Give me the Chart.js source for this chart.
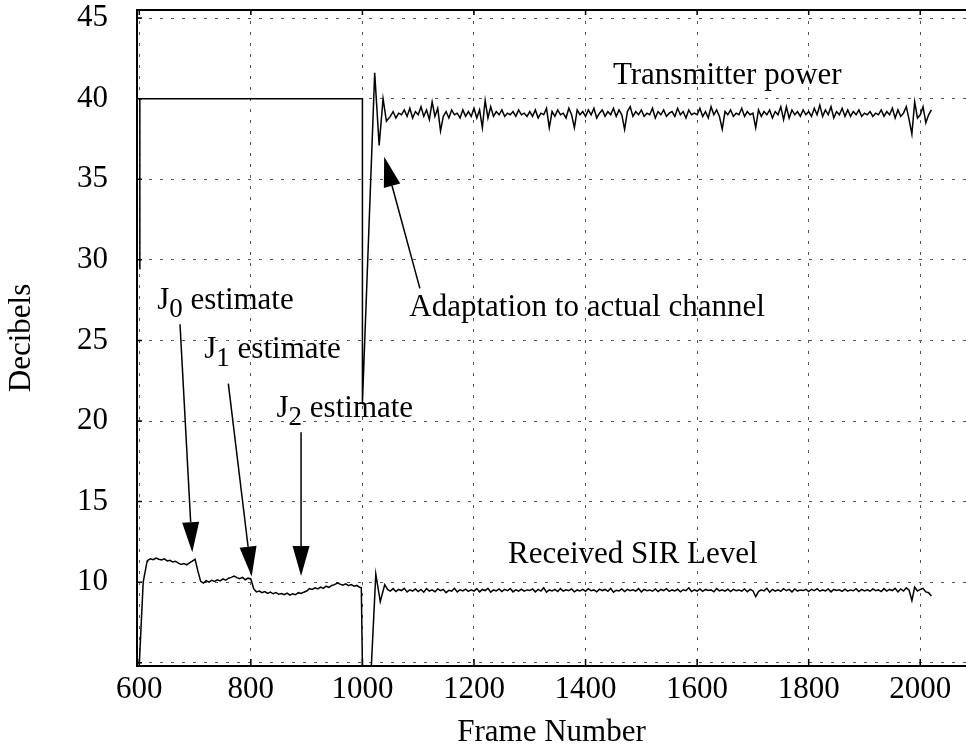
<!DOCTYPE html>
<html>
<head>
<meta charset="utf-8">
<script src="https://cdn.jsdelivr.net/npm/chart.js@4.4.0/dist/chart.umd.min.js"></script>
<style>
  body { margin: 0; background: #fff; }
  #wrap { width: 966px; height: 751px; overflow: hidden; background: #fff; }
</style>
</head>
<body>
<div id="wrap"><canvas id="mycanvas" width="966" height="751"></canvas></div>
<script>
var serif = '"Liberation Serif", "DejaVu Serif", serif';

// axis ticks
var frameTicks = [600, 800, 1000, 1200, 1400, 1600, 1800, 2000];
var dbTicks = [5, 10, 15, 20, 25, 30, 35, 40, 45];

// transmitter power: switch-on, fixed 40 dB, then adaptation overshoot
var powerFrames = [601, 601, 1000, 1000, 1022, 1030, 1037, 1043];
var powerDb = [29.4, 40, 40, 21.1, 41.6, 37.1, 40.0, 38.6];
// steady part, one reading every 5 frames from frame 1050
var powerTailStart = 1050;
var powerTail = [
  38.9, 39.2, 38.8, 39.1, 39.0, 39.3, 38.9, 39.4, 38.8, 39.2,
  39.0, 39.5, 38.9, 39.3, 38.7, 39.8, 38.9, 39.4, 38.0, 38.9, 39.2, 38.8, 39.3, 39.0, 39.1, 38.8, 39.3, 38.9, 39.2, 38.9,
  39.4, 38.8, 39.3, 38.2, 39.9, 38.8, 39.5, 38.9, 39.2, 39.0, 39.3, 38.9, 39.1, 39.0, 39.2, 38.9, 39.3, 39.0, 39.1, 38.9,
  39.2, 38.9, 39.3, 38.8, 39.1, 39.0, 39.4, 38.2, 39.2, 38.9, 39.3, 39.0, 39.1, 38.8, 39.4, 39.0, 38.2, 39.3, 39.0, 39.2,
  38.9, 39.3, 39.0, 39.4, 38.8, 39.1, 39.3, 38.9, 39.2, 39.0, 39.4, 38.9, 39.3, 39.0, 38.1, 39.2, 39.5, 38.9, 39.2, 39.0,
  39.3, 38.9, 39.1, 39.0, 39.4, 38.8, 39.2, 39.0, 39.3, 38.9, 39.1, 39.2, 38.9, 39.4, 39.0, 39.2, 38.8, 39.3, 39.0, 39.1,
  39.0, 39.4, 38.9, 39.2, 38.8, 39.5, 39.0, 39.3, 38.9, 38.1, 39.2, 39.0, 39.3, 38.9, 39.1, 39.0, 39.4, 38.9, 39.2, 39.0,
  39.1, 38.2, 39.3, 38.9, 39.2, 39.0, 39.3, 38.8, 39.2, 39.0, 39.5, 38.7, 39.5, 38.8, 39.3, 39.0, 39.2, 38.9, 39.3, 39.0,
  39.2, 38.9, 39.4, 39.0, 39.6, 38.9, 39.3, 39.0, 39.5, 38.8, 39.2, 39.0, 39.4, 38.9, 39.3, 38.9, 39.2, 39.0, 39.3, 38.9,
  39.1, 39.0, 39.2, 38.9, 39.1, 39.0, 39.3, 38.9, 39.2, 39.0, 39.4, 38.8, 39.3, 38.9, 39.1, 39.5, 38.7, 37.8, 39.8, 38.8,
  39.0, 39.5, 38.5, 39.0, 39.3
];

// received SIR: start-up rise
var sirStartFrames = [600, 607, 614];
var sirStartDb = [4.9, 10.0, 11.3];
// J0 / J1 / J2 estimation phase, every 5 frames from 615 to 995
var sirEarlyStart = 615;
var sirEarly = [
  11.35, 11.45, 11.40, 11.50, 11.42, 11.38, 11.45, 11.32, 11.36, 11.25, 11.30, 11.18, 11.10, 11.15, 11.08, 11.20, 11.30,
  11.42, 10.70, 10.05, 9.95, 10.10, 10.00, 10.12, 10.05, 10.15, 10.08, 10.20, 10.12, 10.25, 10.30, 10.38, 10.28, 10.22, 10.30, 10.15, 10.25,
  10.20, 9.60, 9.40, 9.45, 9.35, 9.42, 9.30, 9.38, 9.28, 9.35, 9.25, 9.30, 9.22, 9.32, 9.20, 9.28, 9.22, 9.35, 9.30, 9.38,
  9.45, 9.60, 9.55, 9.65, 9.58, 9.70, 9.62, 9.75, 9.68, 9.80, 9.85, 9.95, 9.88, 9.82, 9.90, 9.78, 9.85, 9.75, 9.80, 9.68
];
// drop-out at 1000 and recovery
var sirMidFrames = [998, 1000, 1016, 1024, 1032, 1040];
var sirMidDb = [9.65, 4.8, 4.8, 10.5, 8.8, 9.85];
// steady part, every 5 frames from 1045
var sirTailStart = 1045;
var sirTail = [
  9.55, 9.45, 9.60, 9.42, 9.55, 9.48, 9.62, 9.40, 9.52, 9.45, 9.58,
  9.42, 9.55, 9.38, 9.60, 9.45, 9.52, 9.40, 9.58, 9.47, 9.55, 9.35, 9.50, 9.45, 9.62, 9.40, 9.53, 9.46, 9.57, 9.43, 9.52,
  9.45, 9.60, 9.40, 9.55, 9.48, 9.62, 9.38, 9.52, 9.46, 9.58, 9.42, 9.55, 9.47, 9.60, 9.40, 9.53, 9.45, 9.57, 9.44, 9.52,
  9.48, 9.58, 9.40, 9.55, 9.45, 9.65, 9.38, 9.52, 9.46, 9.55, 9.42, 9.60, 9.45, 9.53, 9.47, 9.58, 9.40, 9.52, 9.46, 9.55,
  9.43, 9.60, 9.47, 9.52, 9.40, 9.57, 9.48, 9.55, 9.44, 9.62, 9.38, 9.50, 9.46, 9.58, 9.42, 9.55, 9.47, 9.53, 9.45, 9.60,
  9.40, 9.55, 9.47, 9.52, 9.44, 9.58, 9.42, 9.55, 9.48, 9.60, 9.43, 9.52, 9.46, 9.56, 9.40, 9.53, 9.47, 9.65, 9.42, 9.52,
  9.45, 9.58, 9.43, 9.55, 9.48, 9.52, 9.40, 9.60, 9.46, 9.53, 9.44, 9.57, 9.42, 9.55, 9.47, 9.52, 9.45, 9.58, 9.41, 9.55,
  9.47, 9.10, 9.42, 9.53, 9.46, 9.62, 9.38, 9.55, 9.45, 9.52, 9.43, 9.60, 9.47, 9.55, 9.40, 9.58, 9.45, 9.52, 9.48, 9.56,
  9.42, 9.55, 9.47, 9.60, 9.44, 9.52, 9.46, 9.58, 9.40, 9.55, 9.48, 9.53, 9.43, 9.57, 9.45, 9.52, 9.47, 9.60, 9.42, 9.55,
  9.46, 9.53, 9.44, 9.58, 9.47, 9.52, 9.42, 9.60, 9.45, 9.55, 9.48, 9.62, 9.40, 9.58, 9.45, 9.65, 9.50, 8.86, 9.70, 9.45,
  9.55, 9.62, 9.40, 9.35, 9.15
];

// text labels and arrows, in frame / dB units
var notes = [
  { text: 'Transmitter power', x: 1449, y: 40.89 },
  { text: 'Adaptation to actual channel', x: 1084, y: 26.5 },
  { text: 'Received SIR Level', x: 1261, y: 11.22 },
  { text: 'J', sub: '0', rest: ' estimate', x: 632, y: 26.92 },
  { text: 'J', sub: '1', rest: ' estimate', x: 716.5, y: 23.92 },
  { text: 'J', sub: '2', rest: ' estimate', x: 846, y: 20.23 }
];
var arrows = [
  { from: [673, 26.0], to: [695, 11.86] },
  { from: [759.6, 22.32], to: [801.5, 10.35] },
  { from: [890, 19.3], to: [890, 10.39] },
  { from: [1103, 28.23], to: [1039, 36.39] }
];

function toPoints(frames, vals) {
  var pts = [];
  for (var i = 0; i < frames.length; i++) pts.push({ x: frames[i], y: vals[i] });
  return pts;
}
function tailPoints(start, vals) {
  var pts = [];
  for (var i = 0; i < vals.length; i++) pts.push({ x: start + 5 * i, y: vals[i] });
  return pts;
}

var powerData = toPoints(powerFrames, powerDb).concat(tailPoints(powerTailStart, powerTail));
var sirData = toPoints(sirStartFrames, sirStartDb)
  .concat(tailPoints(sirEarlyStart, sirEarly))
  .concat(toPoints(sirMidFrames, sirMidDb))
  .concat(tailPoints(sirTailStart, sirTail));

var framePlugin = {
  id: 'frameAndNotes',
  afterDatasetsDraw: function(chart) {
    var ctx = chart.ctx, a = chart.chartArea;
    var xs = chart.scales.x, ys = chart.scales.y;
    ctx.save();
    // top frame line
    ctx.strokeStyle = '#000';
    ctx.lineWidth = 2;
    ctx.beginPath();
    ctx.moveTo(a.left, a.top);
    ctx.lineTo(a.right, a.top);
    ctx.stroke();
    // inward tick marks
    ctx.lineWidth = 1.5;
    ctx.beginPath();
    frameTicks.forEach(function(v) {
      var px = xs.getPixelForValue(v);
      ctx.moveTo(px, a.bottom); ctx.lineTo(px, a.bottom - 7);
      ctx.moveTo(px, a.top); ctx.lineTo(px, a.top + 5);
    });
    dbTicks.forEach(function(v) {
      var py = ys.getPixelForValue(v);
      ctx.moveTo(a.left, py); ctx.lineTo(a.left + 5, py);
    });
    ctx.stroke();

    // text notes
    ctx.fillStyle = '#000';
    ctx.textBaseline = 'alphabetic';
    ctx.textAlign = 'left';
    notes.forEach(function(n) {
      var px = xs.getPixelForValue(n.x), py = ys.getPixelForValue(n.y);
      ctx.font = '31px ' + serif;
      ctx.fillText(n.text, px, py);
      if (n.sub) {
        px += ctx.measureText(n.text).width;
        ctx.font = '27px ' + serif;
        ctx.fillText(n.sub, px, py + 8);
        px += ctx.measureText(n.sub).width;
        ctx.font = '31px ' + serif;
        ctx.fillText(n.rest, px, py);
      }
    });

    // arrows
    arrows.forEach(function(ar) {
      var x1 = xs.getPixelForValue(ar.from[0]), y1 = ys.getPixelForValue(ar.from[1]);
      var x2 = xs.getPixelForValue(ar.to[0]), y2 = ys.getPixelForValue(ar.to[1]);
      var dx = x2 - x1, dy = y2 - y1, len = Math.sqrt(dx * dx + dy * dy);
      var ux = dx / len, uy = dy / len;
      var hl = 30, hw = 8.5;
      var bx = x2 - ux * hl, by = y2 - uy * hl;
      ctx.lineWidth = 1.5;
      ctx.beginPath();
      ctx.moveTo(x1, y1);
      ctx.lineTo(bx, by);
      ctx.stroke();
      ctx.beginPath();
      ctx.moveTo(x2, y2);
      ctx.lineTo(bx - uy * hw, by + ux * hw);
      ctx.lineTo(bx + uy * hw, by - ux * hw);
      ctx.closePath();
      ctx.fill();
    });
    ctx.restore();
  }
};

var ctx = document.getElementById('mycanvas');
var LineGraph = new Chart(ctx, {
  type: 'line',
  data: {
    datasets: [
      { label: 'Transmitter power', data: powerData, borderColor: '#000', borderWidth: 1.5,
        pointRadius: 0, fill: false, tension: 0 },
      { label: 'Received SIR Level', data: sirData, borderColor: '#000', borderWidth: 1.5,
        pointRadius: 0, fill: false, tension: 0 }
    ]
  },
  options: {
    responsive: false,
    animation: false,
    events: [],
    layout: { padding: { top: 10, right: 0, left: 0, bottom: 0 } },
    plugins: { legend: { display: false }, tooltip: { enabled: false } },
    scales: {
      x: {
        type: 'linear',
        min: 595.9,
        max: 2082,
        afterBuildTicks: function(s) { s.ticks = frameTicks.map(function(v) { return { value: v }; }); },
        afterFit: function(s) { s.height = 85; s.paddingLeft = 0; s.paddingRight = 0; },
        grid: { color: '#555', lineWidth: 1, drawTicks: false },
        border: { display: true, color: '#000', width: 2, dash: [3, 8] },
        ticks: { color: '#000', font: { family: serif, size: 31 }, padding: 5, maxRotation: 0,
                 callback: function(v) { return v; } },
        title: { display: true, text: 'Frame Number', color: '#000',
                 font: { family: serif, size: 31 }, padding: { top: 0, bottom: 0 } }
      },
      y: {
        min: 4.8,
        max: 45.5,
        afterBuildTicks: function(s) { s.ticks = dbTicks.map(function(v) { return { value: v }; }); },
        afterFit: function(s) { s.width = 137; s.paddingTop = 0; s.paddingBottom = 0; },
        grid: { color: '#555', lineWidth: 1, drawTicks: false },
        border: { display: true, color: '#000', width: 2, dash: [3, 8] },
        ticks: { color: '#000', font: { family: serif, size: 31 }, padding: 29,
                 callback: function(v) { return v === 5 ? '' : v; } },
        title: { display: true, text: 'Decibels', color: '#000',
                 font: { family: serif, size: 31 }, padding: { top: 3, bottom: 0 } }
      }
    }
  },
  plugins: [framePlugin]
});
</script>
</body>
</html>
